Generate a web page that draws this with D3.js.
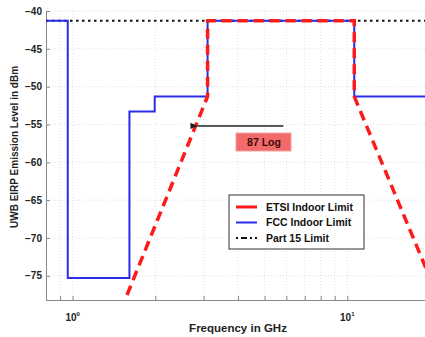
<!DOCTYPE html>
<html>
<head>
<meta charset="utf-8">
<script src="https://cdn.jsdelivr.net/npm/d3@7/dist/d3.min.js"></script>
<style>
  html, body { margin: 0; padding: 0; background: #fff; }
  svg { display: block; font-family: "Liberation Sans", Arial, sans-serif; }
</style>
</head>
<body>
<svg id="chart" width="425" height="337"></svg>
<script>
// Emission limits (frequency in GHz, level in dBm)
const fccFreq  = [0.8, 0.96, 0.96, 1.61, 1.61, 1.99, 1.99, 3.1, 3.1, 10.6, 10.6, 20];
const fccLevel = [-41.3, -41.3, -75.3, -75.3, -53.3, -53.3, -51.3, -51.3, -41.3, -41.3, -51.3, -51.3];

const etsiFreq  = [1.5, 3.1, 3.1, 10.6, 10.6, 20];
const etsiLevel = [-79.5, -51.3, -41.3, -41.3, -51.3, -75.3];

const part15Freq  = [0.8, 20];
const part15Level = [-41.3, -41.3];

const yTicks = [-40, -45, -50, -55, -60, -65, -70, -75];
const xMajor = [1, 10];
const xMinor = [0.9, 2, 3, 4, 5, 6, 7, 8, 9, 20];

const legendNames = ["ETSI Indoor Limit", "FCC Indoor Limit", "Part 15 Limit"];
const slopeLabel = "87 Log";
const arrowFrom = [5.85, -55.2];
const arrowTo = [2.8, -55.2];

const svg = d3.select("#chart");
const m = { left: 46, top: 11, right: 430, bottom: 300 };

const x = d3.scaleLog().domain([0.8, 20]).range([m.left, m.right]);
const y = d3.scaleLinear().domain([-40, -78.2]).range([m.top, m.bottom]);

svg.append("defs").append("clipPath").attr("id", "plot")
  .append("rect").attr("x", m.left).attr("y", 0)
  .attr("width", m.right - m.left).attr("height", m.bottom);

// grid
const grid = svg.append("g").attr("stroke", "#d8d8d8").attr("stroke-width", 0.8)
  .attr("stroke-dasharray", "1,2");
grid.selectAll("line.v").data(xMajor.concat(xMinor)).join("line")
  .attr("x1", d => x(d)).attr("x2", d => x(d))
  .attr("y1", m.top).attr("y2", m.bottom);
grid.selectAll("line.h").data(yTicks).join("line")
  .attr("x1", m.left).attr("x2", m.right)
  .attr("y1", d => y(d)).attr("y2", d => y(d));

// axes
const yAxis = d3.axisLeft(y).tickValues(yTicks).tickSize(-4).tickPadding(4)
  .tickFormat(d3.format("d"));
const gy = svg.append("g").attr("transform", `translate(${m.left},0)`).call(yAxis);
gy.select(".domain").attr("stroke", "#888");
gy.selectAll(".tick line").attr("stroke", "#888");
gy.selectAll(".tick text").attr("font-size", 10).attr("font-weight", "bold").attr("fill", "#222");

const xAxis = d3.axisBottom(x).tickValues(xMajor.concat(xMinor)).tickSize(-4).tickFormat("");
const gx = svg.append("g").attr("transform", `translate(0,${m.bottom})`).call(xAxis);
gx.select(".domain").attr("stroke", "#888");
gx.selectAll(".tick line").attr("stroke", "#888");

const xl = svg.append("g").selectAll("text").data(xMajor).join("text")
  .attr("x", d => x(d)).attr("y", 321)
  .attr("text-anchor", "middle").attr("font-size", 10).attr("font-weight", "bold").attr("fill", "#222");
xl.append("tspan").text("10");
xl.append("tspan").attr("dy", -5).attr("font-size", 6).text(d => Math.log10(d));

svg.append("text").attr("x", 238).attr("y", 332).attr("text-anchor", "middle")
  .attr("font-size", 11.5).attr("font-weight", "bold").attr("fill", "#222")
  .text("Frequency in GHz");
svg.append("text").attr("transform", "translate(18,147) rotate(-90)")
  .attr("text-anchor", "middle").attr("font-size", 10).attr("font-weight", "bold").attr("fill", "#222")
  .text("UWB EIRP Emission Level in dBm");

// series
const line = d3.line().x(d => x(d[0])).y(d => y(d[1]));
const plot = svg.append("g").attr("clip-path", "url(#plot)");

plot.append("path").datum(d3.zip(part15Freq, part15Level)).attr("d", line)
  .attr("fill", "none").attr("stroke", "#111").attr("stroke-width", 2)
  .attr("stroke-dasharray", "2.5,3.5");
plot.append("path").datum(d3.zip(fccFreq, fccLevel)).attr("d", line)
  .attr("fill", "none").attr("stroke", "#2b2bea").attr("stroke-width", 2);
plot.append("path").datum(d3.zip(etsiFreq, etsiLevel)).attr("d", line)
  .attr("fill", "none").attr("stroke", "#ff1a1a").attr("stroke-width", 3.5)
  .attr("stroke-dasharray", "10,6");

// slope annotation
svg.append("defs").append("marker").attr("id", "arr").attr("viewBox", "0 0 10 10")
  .attr("refX", 1).attr("refY", 5).attr("markerWidth", 6).attr("markerHeight", 6)
  .attr("orient", "auto-start-reverse")
  .append("path").attr("d", "M10,1 L0,5 L10,9 Z").attr("fill", "#222");
svg.append("line")
  .attr("x1", x(arrowFrom[0])).attr("y1", y(arrowFrom[1]))
  .attr("x2", x(arrowTo[0]) + 2).attr("y2", y(arrowTo[1]))
  .attr("stroke", "#222").attr("stroke-width", 1.3).attr("marker-end", "url(#arr)");
svg.append("rect").attr("x", 236).attr("y", 133).attr("width", 55).attr("height", 18)
  .attr("fill", "#f26a6a").attr("stroke", "#f6a0a0");
svg.append("text").attr("x", 264).attr("y", 146).attr("text-anchor", "middle")
  .attr("font-size", 10.5).attr("font-weight", "bold").attr("fill", "#3a0a0a").text(slopeLabel);

// legend
const lg = svg.append("g");
lg.append("rect").attr("x", 229).attr("y", 195).attr("width", 135).attr("height", 54)
  .attr("fill", "#fff").attr("stroke", "#333").attr("stroke-width", 1);
const styles = [
  { c: "#ff1a1a", w: 3, dash: null },
  { c: "#2b2bea", w: 2, dash: null },
  { c: "#111", w: 2, dash: "2,3,6,3" }
];
legendNames.forEach((name, i) => {
  const yy = 207 + i * 15.5;
  lg.append("line").attr("x1", 236).attr("x2", 257).attr("y1", yy).attr("y2", yy)
    .attr("stroke", styles[i].c).attr("stroke-width", styles[i].w)
    .attr("stroke-dasharray", styles[i].dash);
  lg.append("text").attr("x", 266).attr("y", yy + 3.8).attr("font-size", 10.5)
    .attr("font-weight", "bold").attr("fill", "#111").attr("textLength", null).text(name);
});
</script>
</body>
</html>
